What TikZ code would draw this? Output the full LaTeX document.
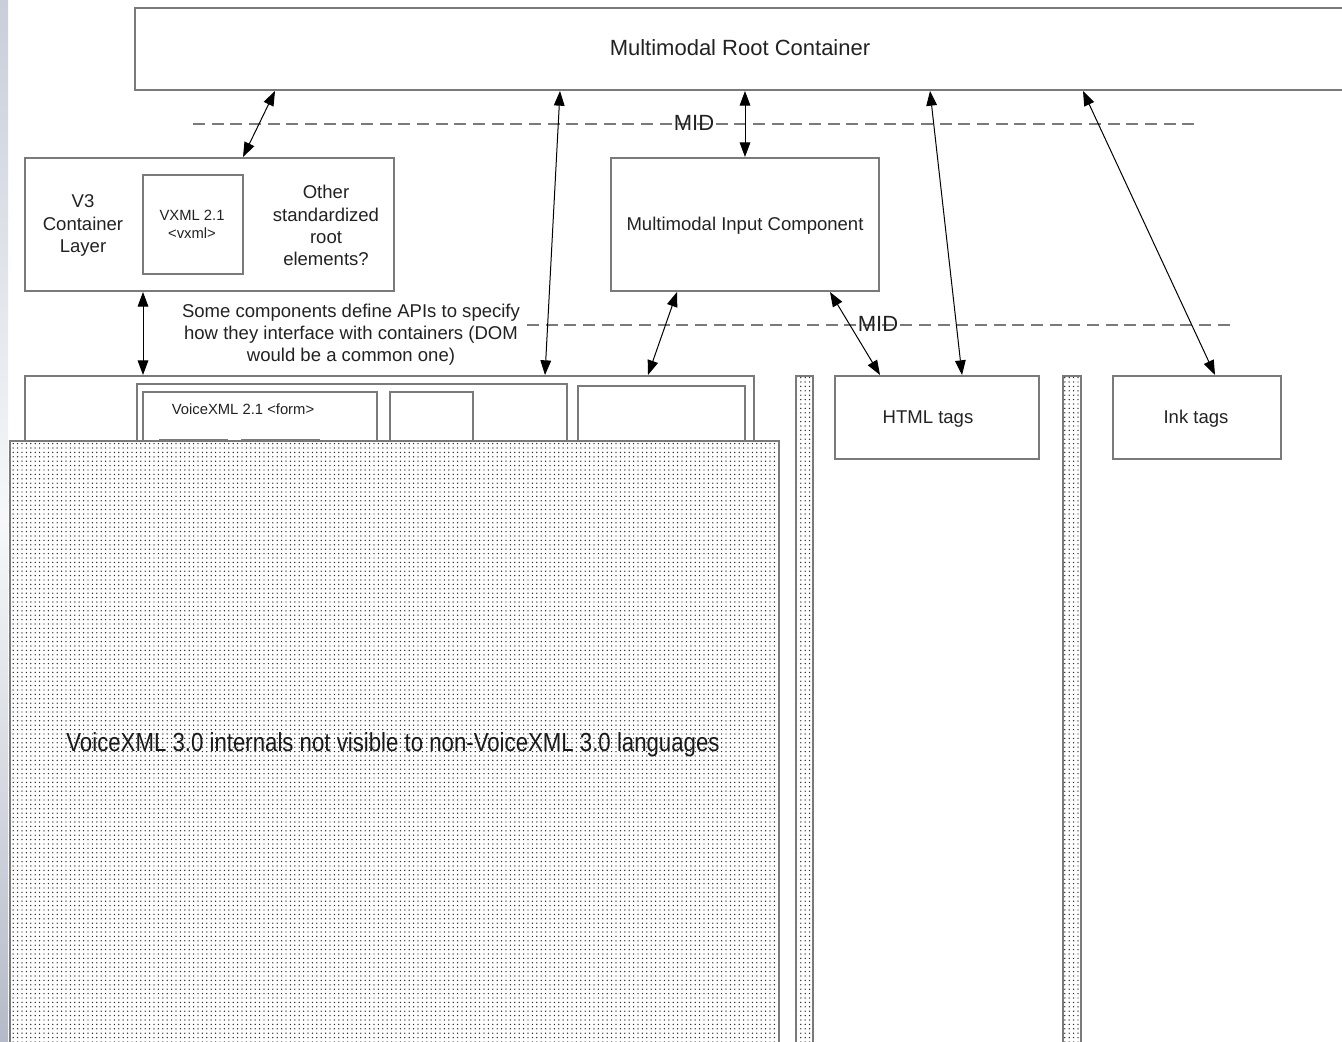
\documentclass[tikz,border=0pt]{standalone}
\usepackage{fontspec}
\setmainfont{Liberation Sans}
\newfontfamily\narrowfont[FakeStretch=0.85]{Liberation Sans}
\usetikzlibrary{arrows.meta,patterns,fit}
\definecolor{boxgray}{HTML}{7A7A7A}
\definecolor{txt}{HTML}{222222}
\definecolor{stripA}{HTML}{C9CED9}
\definecolor{stripB}{HTML}{B5BAC8}
\pgfdeclarepatternformonly{bigdots}{\pgfpoint{-0.8pt}{-0.8pt}}{\pgfpoint{0.8pt}{0.8pt}}{\pgfpoint{3.3pt}{3.3pt}}{%
  \pgfpathcircle{\pgfqpoint{0pt}{0pt}}{0.55pt}\pgfusepath{fill}}
\begin{document}
\begin{tikzpicture}[x=0.75pt,y=-0.75pt,
  box/.style={draw=boxgray, line width=1.5pt, fill=white, inner sep=0pt},
  dotbox/.style={draw=boxgray, line width=1.5pt, inner sep=0pt,
    preaction={fill=white}, pattern=bigdots, pattern color=black!85},
  lbl/.style={font=\fontsize{13.9}{16.7}\selectfont, text=txt, align=center, inner sep=0pt, yshift=-2pt},
  small/.style={font=\fontsize{11.1}{13.5}\selectfont, text=txt, align=center, inner sep=0pt, yshift=-1.5pt},
  midlbl/.style={font=\fontsize{16.5}{20}\selectfont, text=txt, inner sep=0pt},
  arr/.style={<->, >={Triangle[length=11pt,width=8pt]}, line width=0.75pt, black},
  dashline/.style={draw=boxgray, line width=1.5pt, dash pattern=on 9pt off 5pt}]
\useasboundingbox (0,0) rectangle (1342,1042);
\fill[white] (0,0) rectangle (1342,1042);
\shade[top color=stripA, bottom color=stripB, middle color=white!85!stripA] (0,0) rectangle (8,1042);

% top container
\node[box, fit={(135,8) (1352,90)}] (root) {};
\node[midlbl, yshift=-0.8pt] (roott) at (740,47) {Multimodal Root Container};

% V3 container layer
\node[box, fit={(25,158) (394,291)}] (v3) {};
\node[lbl] (v3t) at (83,223) {V3\\Container\\Layer};
\node[box, fit={(143,175) (243,274)}] (vxml) {};
\node[small] (vxmlt) at (192,222) {VXML 2.1\\<vxml>};
\node[lbl] (other) at (326,223) {Other\\standardized\\root\\elements?};

% multimodal input component
\node[box, fit={(611,158) (879,291)}] (mic) {};
\node[lbl] (mict) at (745,223) {Multimodal Input Component};

% dashed MID lines
\coordinate (d1a) at (193,124);
\coordinate (d1b) at (1197,124);
\draw[dashline] (d1a) -- (d1b);
\node[midlbl] (mid1) at (694,123) {MID};
\coordinate (d2a) at (527,325);
\coordinate (d2b) at (1230,325);
\draw[dashline] (d2a) -- (d2b);
\node[midlbl] (mid2) at (878,324) {MID};

% API text
\node[lbl] (api) at (351,332) {Some components define APIs to specify\\how they interface with containers (DOM\\would be a common one)};

% big VoiceXML 3.0 box and its internals
\node[box, fit={(25,376) (754,1060)}] (big) {};
\node[box, fit={(137,384) (567,1060)}] (vx) {};
\node[box, fit={(143,392) (377,1060)}] (form) {};
\node[small] (formt) at (243,407) {VoiceXML 2.1 <form>};
\node[box, fit={(160,440) (227,1060)}] (f1) {};
\node[box, fit={(242,440) (319,1060)}] (f2) {};
\node[box, fit={(390,392) (473,1060)}] (sm) {};
\node[box, fit={(578,386) (745,1060)}] (b3) {};

\node[dotbox, fit={(10,441) (779,1060)}] (internal) {};
\node[font=\narrowfont\fontsize{19.6}{24}\selectfont, text=black!90, inner sep=0pt, yshift=-2pt] (internalt) at (393,742) {VoiceXML 3.0 internals not visible to non-VoiceXML 3.0 languages};

% narrow dotted bars
\node[dotbox, fit={(796,376) (813,1060)}] (bar1) {};
\node[dotbox, fit={(1063,376) (1081,1060)}] (bar2) {};

% HTML and Ink
\node[box, fit={(835,376) (1039,459)}] (html) {};
\node[lbl] (htmlt) at (928,416) {HTML tags};
\node[box, fit={(1113,376) (1281,459)}] (ink) {};
\node[lbl] (inkt) at (1196,416) {Ink tags};

% connectors
\draw[arr] (root.south -| 275,0) -- (v3.north -| 243,0);
\draw[arr] (root.south -| 560,0) -- (big.north -| 545,0);
\draw[arr] (root.south -| 745,0) -- (mic.north -| 745,0);
\draw[arr] (root.south -| 930,0) -- (html.north -| 962,0);
\draw[arr] (root.south -| 1083,0) -- (ink.north -| 1215,0);
\draw[arr] (v3.south -| 143,0) -- (big.north -| 143,0);
\draw[arr] (mic.south -| 677,0) -- (big.north -| 648,0);
\draw[arr] (mic.south -| 830,0) -- (html.north -| 880,0);
\end{tikzpicture}
\end{document}
